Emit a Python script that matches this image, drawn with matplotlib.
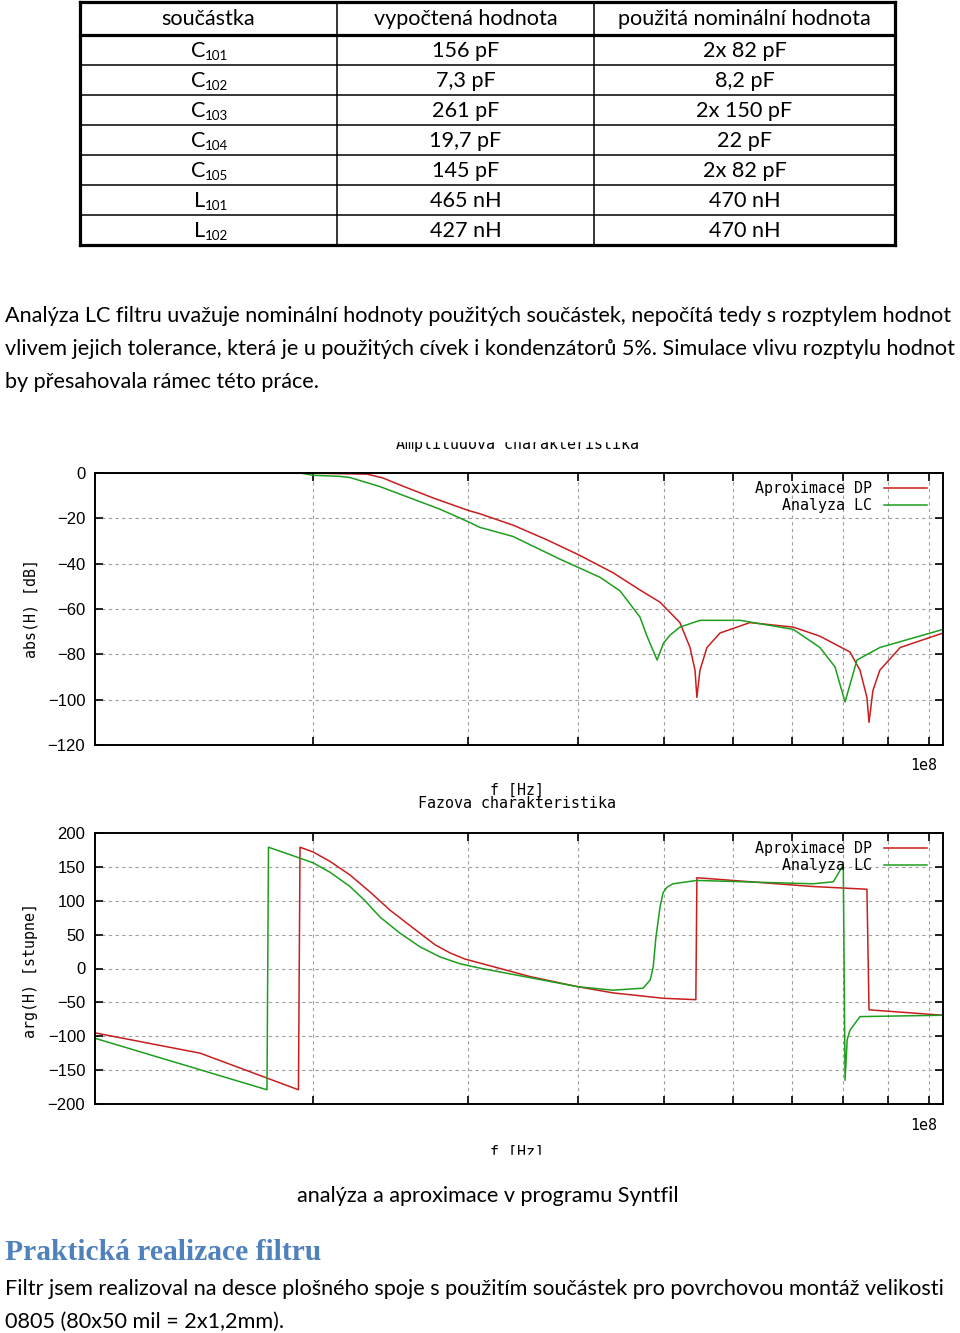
import matplotlib
matplotlib.use("Agg")
import matplotlib.pyplot as plt
from matplotlib.patches import Rectangle
from matplotlib.ticker import NullLocator

# --- tabulka soucastek ---
table_header = ["součástka", "vypočtená hodnota", "použitá nominální hodnota"]
part_letter = ["C", "C", "C", "C", "C", "L", "L"]
part_index = ["101", "102", "103", "104", "105", "101", "102"]
computed = ["156 pF", "7,3 pF", "261 pF", "19,7 pF", "145 pF", "465 nH", "427 nH"]
nominal = ["2x 82 pF", "8,2 pF", "2x 150 pF", "22 pF", "2x 82 pF", "470 nH", "470 nH"]

para1 = [
    "Analýza LC filtru uvažuje nominální hodnoty použitých součástek, nepočítá tedy s rozptylem hodnot",
    "vlivem jejich tolerance, která je u použitých cívek i kondenzátorů 5%. Simulace vlivu rozptylu hodnot",
    "by přesahovala rámec této práce.",
]
caption = "analýza a aproximace v programu Syntfil"
heading = "Praktická realizace filtru"
para2 = [
    "Filtr jsem realizoval na desce plošného spoje s použitím součástek pro povrchovou montáž velikosti",
    "0805 (80x50 mil = 2x1,2mm).",
]

# --- amplitudova charakteristika [Hz], [dB] ---
f_amp_dp = [1.131e7, 1.933e7, 2.303e7, 2.401e7, 2.511e7, 2.737e7, 3.0e7, 3.094e7, 3.373e7,
            3.687e7, 4.0e7, 4.381e7, 4.70e7, 4.954e7, 5.218e7, 5.358e7, 5.428e7, 5.455e7,
            5.499e7, 5.600e7, 5.794e7, 6.266e7, 7.02e7, 7.525e7, 8.14e7, 8.355e7, 8.508e7,
            8.555e7, 8.642e7, 8.80e7, 9.28e7, 1.038e8]
amp_dp = [0, 0, -0.5, -2.2, -5.3, -11, -16.5, -18, -23,
          -29.5, -36, -44, -51.6, -57, -66, -77, -87, -99,
          -87, -77, -70.6, -66, -68, -72, -79, -87, -99,
          -110, -96, -87, -77, -70.6]
f_amp_lc = [1.131e7, 1.933e7, 2.0e7, 2.146e7, 2.203e7, 2.382e7, 2.577e7, 2.788e7, 3.0e7,
            3.094e7, 3.373e7, 3.813e7, 4.234e7, 4.462e7, 4.70e7, 4.788e7, 4.916e7, 5.0e7,
            5.086e7, 5.218e7, 5.499e7, 6.106e7, 7.02e7, 7.525e7, 7.826e7, 8.035e7, 8.29e7,
            8.80e7, 1.038e8]
amp_lc = [0, 0, -1, -1.5, -2, -6, -11, -16, -21.5,
          -24, -28, -38, -46, -52, -63.5, -72, -82.5, -75,
          -71.5, -68, -65, -65, -69, -77, -85.5, -101, -82.5,
          -77, -69]

# --- fazova charakteristika [Hz], [stupne] ---
f_ph_dp = [1.131e7, 1.489e7, 1.925e7, 1.933e7, 2.0e7, 2.091e7, 2.203e7, 2.321e7, 2.446e7,
           2.645e7, 2.751e7, 2.861e7, 2.974e7, 3.094e7, 3.529e7, 4.0e7, 4.381e7, 5.0e7,
           5.44e7, 5.455e7, 7.387e7, 8.508e7, 8.555e7, 1.038e8]
ph_dp = [-95, -125, -179, 179, 172, 158, 138, 113, 86,
         52, 35, 23, 14, 8, -12, -27, -36, -44,
         -46, 134, 121, 117, -61, -69]
f_ph_lc = [1.131e7, 1.773e7, 1.78e7, 1.883e7, 2.0e7, 2.091e7, 2.203e7, 2.291e7, 2.382e7,
           2.511e7, 2.645e7, 2.788e7, 2.937e7, 3.094e7, 4.0e7, 4.381e7, 4.74e7, 4.828e7,
           4.866e7, 4.90e7, 4.954e7, 4.994e7, 5.046e7, 5.123e7, 5.455e7, 7.387e7, 7.794e7,
           7.998e7, 8.035e7, 8.08e7, 8.14e7, 8.355e7, 1.038e8]
ph_lc = [-103, -179, 179, 168, 156, 142, 121, 100, 76,
         52, 32, 17, 7, 0.5, -27, -32, -29, -17,
         2, 45, 91, 112, 120, 125, 130, 125, 128,
         153, -165, -105, -91, -71, -69]

x_ticks = [2e7, 3e7, 4e7, 5e7, 6e7, 7e7, 8e7, 9e7, 1e8]
x_range = (1.131e7, 1.038e8)

W, H = 960, 1333
BODY = "Lato"
MONO = "DejaVu Sans Mono"
RED = "#c81e1e"
GREEN = "#1e9e1e"

fig = plt.figure(figsize=(W / 100, H / 100), dpi=100)
renderer = fig.canvas.get_renderer()


def fit_size(text, width, **kw):
    t = fig.text(0, 0, text, fontsize=20, **kw)
    w = t.get_window_extent(renderer).width
    t.remove()
    return 20 * width / w


def px_axes(left, top, right, bottom):
    return fig.add_axes([left / W, 1 - bottom / H, (right - left) / W, (bottom - top) / H])


def bode(ax, fdp, ydp, flc, ylc, ylim, yticks):
    ax.plot(fdp, ydp, color=RED, lw=1.1, label="Aproximace DP")
    ax.plot(flc, ylc, color=GREEN, lw=1.1, label="Analyza LC")
    ax.set_xscale("log")
    ax.set_xlim(*x_range)
    ax.set_ylim(*ylim)
    ax.set_xticks(x_ticks)
    ax.set_xticklabels([])
    ax.xaxis.set_minor_locator(NullLocator())
    ax.set_yticks(yticks)
    ax.set_yticklabels([str(v).replace("-", "\u2212") for v in yticks],
                       fontfamily="Liberation Sans", fontsize=12)
    ax.tick_params(direction="in", top=True, right=True, length=6, width=1.2, pad=7)
    ax.grid(True, color="#a0a0a0", ls=(0, (3, 3)), lw=0.8)
    for s in ax.spines.values():
        s.set_linewidth(1.4)
    top = ax.get_position().y1
    ax.legend(loc="upper right", frameon=False, markerfirst=False,
              prop={"family": MONO, "size": 10.8}, handlelength=2.9,
              handletextpad=0.74, labelspacing=0.15, borderpad=0, borderaxespad=0,
              bbox_to_anchor=(927 / W, top - 8 / H), bbox_transform=fig.transFigure)


ax1 = px_axes(95, 473, 943, 745)
bode(ax1, f_amp_dp, amp_dp, f_amp_lc, amp_lc, (-120, 0), list(range(-120, 1, 20)))
ax2 = px_axes(95, 833, 943, 1104)
bode(ax2, f_ph_dp, ph_dp, f_ph_lc, ph_lc, (-200, 200), list(range(-200, 201, 50)))

# vrstva pro text v pixelech
bg = fig.add_axes([0, 0, 1, 1])
bg.set_xlim(0, W)
bg.set_ylim(H, 0)
bg.axis("off")

body_size = fit_size(para1[1], 953, fontfamily=BODY)

# tabulka
cols = [80, 337, 594, 895]
rows = [2, 35, 65, 95, 125, 155, 185, 215, 245]
for i, x in enumerate(cols):
    bg.plot([x, x], [rows[0], rows[-1]], color="black", lw=2.3 if i in (0, 3) else 1.1)
for j, y in enumerate(rows):
    bg.plot([cols[0], cols[-1]], [y, y], color="black", lw=2.3 if j in (0, 1, 8) else 1.1)
centers = [(cols[k] + cols[k + 1]) / 2 for k in range(3)]
for k, h in enumerate(table_header):
    bg.text(centers[k], rows[0] + 23, h, fontfamily=BODY, fontsize=body_size,
            ha="center", va="baseline")
for r in range(len(part_letter)):
    base = rows[r + 1] + 22
    bg.text(205, base, part_letter[r], fontfamily=BODY, fontsize=body_size,
            ha="right", va="baseline")
    bg.text(205, base + 3, part_index[r], fontfamily=BODY, fontsize=body_size * 0.62,
            ha="left", va="baseline")
    bg.text(centers[1], base, computed[r], fontfamily=BODY, fontsize=body_size,
            ha="center", va="baseline")
    bg.text(centers[2], base, nominal[r], fontfamily=BODY, fontsize=body_size,
            ha="center", va="baseline")

for i, line in enumerate(para1):
    bg.text(5, 322 + 33 * i, line, fontfamily=BODY, fontsize=body_size, va="baseline")

# popisky grafu
bg.text(518, 445, "Amplitudova charakteristika", fontfamily=MONO, fontsize=10.8,
        ha="center", va="center")
bg.add_patch(Rectangle((300, 410), 400, 31, color="white", zorder=5))
bg.text(31, 609, "abs(H) [dB]", fontfamily=MONO, fontsize=10.8, rotation=90,
        ha="center", va="center")
bg.text(924, 765, "1e8", fontfamily=MONO, fontsize=10.8, ha="center", va="center")
bg.text(517, 790, "f [Hz]", fontfamily=MONO, fontsize=10.8, ha="center", va="center")
bg.text(517, 803, "Fazova charakteristika", fontfamily=MONO, fontsize=10.8,
        ha="center", va="center")
bg.text(31, 971, "arg(H) [stupne]", fontfamily=MONO, fontsize=10.8, rotation=90,
        ha="center", va="center")
bg.text(924, 1125, "1e8", fontfamily=MONO, fontsize=10.8, ha="center", va="center")
bg.text(517, 1152, "f [Hz]", fontfamily=MONO, fontsize=10.8, ha="center", va="center")
bg.add_patch(Rectangle((400, 1155), 250, 20, color="white", zorder=5))

bg.text(488, 1202, caption, fontfamily=BODY, fontsize=body_size, ha="center", va="baseline")
head_size = fit_size(heading, 317, fontfamily="Liberation Serif", fontweight="bold")
bg.text(5, 1260, heading, fontfamily="Liberation Serif", fontweight="bold",
        fontsize=head_size, color="#4f81bd", va="baseline")
for i, line in enumerate(para2):
    bg.text(5, 1295 + 33 * i, line, fontfamily=BODY, fontsize=body_size, va="baseline")

fig.savefig("out.png", dpi=100)
